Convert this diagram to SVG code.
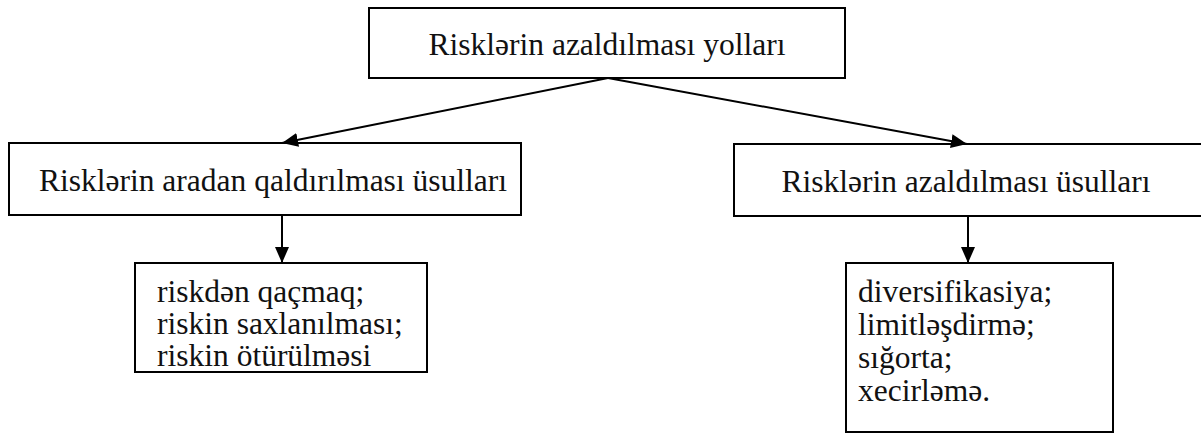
<svg xmlns="http://www.w3.org/2000/svg" width="1201" height="434" viewBox="0 0 1201 434">
<style>
.box{fill:#fff;stroke:#000;stroke-width:2}
.t{font-size:31.5px;fill:#111}
.c{text-anchor:middle}
.ln{stroke:#000;stroke-width:2;fill:none}
</style>
<defs>
<marker id="ah" viewBox="0 0 16 14" refX="16" refY="7" markerWidth="16" markerHeight="14" markerUnits="userSpaceOnUse" orient="auto">
<path d="M0,0 L16,7 L0,14 z" fill="#000"/>
</marker>
</defs>
<rect width="1201" height="434" fill="#fff"/>
<g font-family="Liberation Serif, Times New Roman, serif">
<g id="top">
<rect class="box" x="369" y="8" width="476" height="70"/>
<text class="t c" x="607" y="55">Risklərin azaldılması yolları</text>
</g>
<g id="left">
<rect class="box" x="9" y="143" width="512" height="72"/>
<text class="t c" x="273" y="191">Risklərin aradan qaldırılması üsulları</text>
</g>
<g id="right">
<rect class="box" x="734" y="144" width="470" height="72"/>
<text class="t c" x="966" y="192">Risklərin azaldılması üsulları</text>
</g>
<g id="leftlist">
<rect class="box" x="135" y="263" width="292" height="109"/>
<text class="t" x="157" y="302">riskdən qaçmaq;</text>
<text class="t" x="157" y="334">riskin saxlanılması;</text>
<text class="t" x="157" y="366">riskin ötürülməsi</text>
</g>
<g id="rightlist">
<rect class="box" x="846" y="263" width="267" height="169"/>
<text class="t" x="858" y="302">diversifikasiya;</text>
<text class="t" x="858" y="335">limitləşdirmə;</text>
<text class="t" x="858" y="368">sığorta;</text>
<text class="t" x="858" y="401">xecirləmə.</text>
</g>
</g>
<g id="connectors">
<line class="ln" x1="608" y1="78" x2="282" y2="143" marker-end="url(#ah)"/>
<line class="ln" x1="608" y1="78" x2="967" y2="144" marker-end="url(#ah)"/>
<line class="ln" x1="282" y1="215" x2="282" y2="263" marker-end="url(#ah)"/>
<line class="ln" x1="968" y1="216" x2="968" y2="263" marker-end="url(#ah)"/>
</g>
</svg>
